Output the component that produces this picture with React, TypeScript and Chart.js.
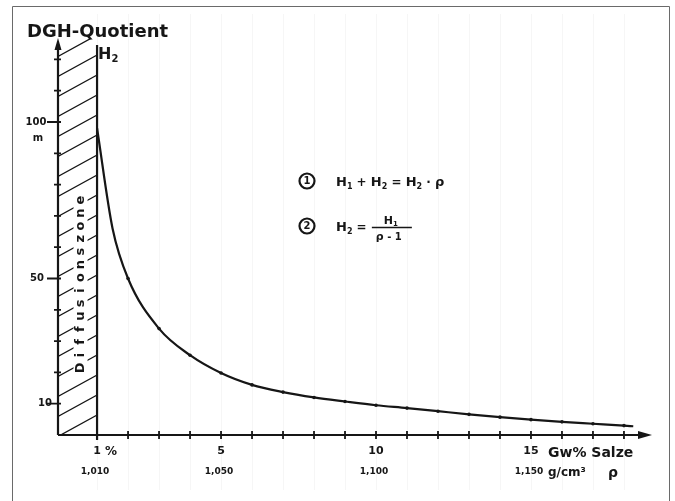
import React, { useEffect, useRef } from "react";
import { Chart, registerables } from "chart.js";

Chart.register(...registerables);

// ---- data ----
const salinityPct = [1, 1.5, 2, 3, 4, 5, 6, 7, 8, 9, 10, 11, 12, 13, 14, 15, 16, 17, 18, 18.3];
const quotientH2 = [98, 66, 50, 34, 25.5, 19.8, 16.0, 13.7, 12.0, 10.7, 9.5, 8.6, 7.6, 6.6, 5.7, 4.9, 4.2, 3.6, 3.0, 2.8];

const xTickValues = [2, 3, 4, 5, 6, 7, 8, 9, 10, 11, 12, 13, 14, 15, 16, 17, 18];
const xLabelValues = [1, 5, 10, 15];
const xLabelsPct = ["1", "5", "10", "15"];
const xLabelsDensity = ["1,010", "1,050", "1,100", "1,150"];

const yTickValues = [10, 20, 30, 40, 50, 60, 70, 80, 90, 100, 110, 120];
const yLabelValues = [100, 50, 10];
const yLabels = ["100", "50", "10"];

const X_MIN = -0.26;
const X_MAX = 18.84;
const Y_MAX = 126.2;
const DIFFUSION_LIMIT = 1;
const HATCH_TOP = 124.6;

const INK = "#161616";
const FONT = "'DejaVu Sans', 'Liberation Sans', sans-serif";

type Seg = [string, number, number]; // text, size, dy

function drawSegs(ctx: CanvasRenderingContext2D, segs: Seg[], x: number, y: number) {
  let cx = x;
  for (const [t, size, dy] of segs) {
    ctx.font = `bold ${size}px ${FONT}`;
    ctx.fillText(t, cx, y + dy);
    cx += ctx.measureText(t).width;
  }
  return cx;
}

function circled(ctx: CanvasRenderingContext2D, n: string, x: number, y: number) {
  ctx.beginPath();
  ctx.lineWidth = 2.2;
  ctx.arc(x, y, 7.5, 0, Math.PI * 2);
  ctx.stroke();
  ctx.font = `bold 10px ${FONT}`;
  ctx.textAlign = "center";
  ctx.textBaseline = "middle";
  ctx.fillText(n, x, y + 0.5);
  ctx.textAlign = "left";
  ctx.textBaseline = "alphabetic";
}

const handDrawnPlugin = {
  id: "handDrawn",
  beforeDatasetsDraw(chart: any) {
    const ctx: CanvasRenderingContext2D = chart.ctx;
    const xs = chart.scales.x;
    const ys = chart.scales.y;
    ctx.save();

    // outer frame of the scan
    ctx.strokeStyle = "#6a6a6a";
    ctx.lineWidth = 1;
    ctx.beginPath();
    ctx.moveTo(12.5, 501);
    ctx.lineTo(12.5, 6.5);
    ctx.lineTo(669.5, 6.5);
    ctx.lineTo(669.5, 501);
    ctx.stroke();

    // faint graph paper lines
    ctx.strokeStyle = "rgba(0,0,0,0.035)";
    for (let v = 1; v <= 18; v++) {
      const px = Math.round(xs.getPixelForValue(v)) + 0.5;
      ctx.beginPath();
      ctx.moveTo(px, 14);
      ctx.lineTo(px, 490);
      ctx.stroke();
    }

    // hatched diffusion zone
    const x0 = xs.getPixelForValue(X_MIN);
    const x1 = xs.getPixelForValue(DIFFUSION_LIMIT);
    const yb = ys.getPixelForValue(0);
    const yt = ys.getPixelForValue(HATCH_TOP);
    ctx.save();
    ctx.beginPath();
    ctx.rect(x0, yt - 6, x1 - x0, yb - yt + 6);
    ctx.clip();
    ctx.strokeStyle = INK;
    ctx.lineWidth = 1.3;
    const rise = (x1 - x0) * 0.55;
    ctx.beginPath();
    for (let y = yb + rise; y > yt - 30; y -= 20) {
      ctx.moveTo(x0, y);
      ctx.lineTo(x1, y - rise);
    }
    ctx.stroke();
    ctx.restore();

    // right edge of zone
    ctx.strokeStyle = INK;
    ctx.lineWidth = 2.2;
    ctx.beginPath();
    ctx.moveTo(x1, yb + 5);
    ctx.lineTo(x1, yt);
    ctx.stroke();

    // vertical label "Diffusionszone"
    const label = "Diffusionszone";
    ctx.save();
    ctx.translate((x0 + x1) / 2 + 3, ys.getPixelForValue(20.5));
    ctx.rotate(-Math.PI / 2);
    ctx.fillStyle = "#ffffff";
    ctx.fillRect(-5, -7, 186, 14);
    ctx.fillStyle = INK;
    ctx.font = `bold 13px ${FONT}`;
    ctx.textBaseline = "middle";
    ctx.textAlign = "center";
    for (let i = 0; i < label.length; i++) {
      ctx.fillText(label[i], i * 12.9 + 3, 0.5);
    }
    ctx.restore();

    // axes
    const xEnd = xs.getPixelForValue(X_MAX);
    const yTop = ys.getPixelForValue(Y_MAX);
    ctx.strokeStyle = INK;
    ctx.fillStyle = INK;
    ctx.lineWidth = 2.2;
    ctx.beginPath();
    ctx.moveTo(x0, yb);
    ctx.lineTo(xEnd - 6, yb);
    ctx.moveTo(x0, yb);
    ctx.lineTo(x0, yTop + 6);
    ctx.stroke();
    ctx.beginPath();
    ctx.moveTo(xEnd + 2, yb);
    ctx.lineTo(xEnd - 12, yb - 4);
    ctx.lineTo(xEnd - 12, yb + 4);
    ctx.closePath();
    ctx.fill();
    ctx.beginPath();
    ctx.moveTo(x0, yTop - 2);
    ctx.lineTo(x0 - 3.5, yTop + 10);
    ctx.lineTo(x0 + 3.5, yTop + 10);
    ctx.closePath();
    ctx.fill();

    // x ticks
    ctx.lineWidth = 1.8;
    ctx.beginPath();
    for (const v of xTickValues) {
      const px = xs.getPixelForValue(v);
      ctx.moveTo(px, yb - 4);
      ctx.lineTo(px, yb + 4);
    }
    ctx.stroke();

    // y ticks
    ctx.beginPath();
    for (const v of yTickValues) {
      const py = ys.getPixelForValue(v);
      const long = yLabelValues.includes(v);
      ctx.moveTo(long ? x0 - 11 : x0 - 4, py);
      ctx.lineTo(x0 + 3, py);
    }
    ctx.stroke();

    ctx.restore();
  },
  afterDatasetsDraw(chart: any) {
    const ctx: CanvasRenderingContext2D = chart.ctx;
    const xs = chart.scales.x;
    const ys = chart.scales.y;
    ctx.save();
    ctx.fillStyle = INK;
    ctx.strokeStyle = INK;

    // title
    ctx.font = `bold 18px ${FONT}`;
    ctx.textBaseline = "alphabetic";
    ctx.fillText("DGH-Quotient", 27, 37);
    drawSegs(ctx, [["H", 16, 0], ["2", 10, 3]], 98, 59);

    // y labels
    ctx.font = `bold 10px ${FONT}`;
    ctx.textAlign = "center";
    ctx.textBaseline = "middle";
    const yLabelX = [36, 37, 45];
    yLabelValues.forEach((v, i) => {
      ctx.fillText(yLabels[i], yLabelX[i], ys.getPixelForValue(v));
    });
    ctx.fillText("m", 38, ys.getPixelForValue(100) + 16);

    // x labels
    xLabelValues.forEach((v, i) => {
      const px = xs.getPixelForValue(v);
      ctx.font = `bold 11px ${FONT}`;
      ctx.textAlign = "center";
      ctx.textBaseline = "alphabetic";
      ctx.fillText(xLabelsPct[i], px, 454);
      ctx.font = `bold 9px ${FONT}`;
      ctx.fillText(xLabelsDensity[i], px - 2, 474);
    });
    const p1 = xs.getPixelForValue(1);
    ctx.font = `bold 12px ${FONT}`;
    ctx.textAlign = "left";
    ctx.fillText("%", p1 + 8, 455);
    const p15 = xs.getPixelForValue(15);
    ctx.font = `bold 14px ${FONT}`;
    ctx.fillText("Gw% Salze", p15 + 17, 457);
    ctx.font = `bold 12px ${FONT}`;
    ctx.fillText("g/cm³", p15 + 17, 476);
    ctx.font = `bold 14px ${FONT}`;
    ctx.fillText("ρ", p15 + 77, 477);

    // formulas
    ctx.lineWidth = 2;
    circled(ctx, "1", 307, 181);
    drawSegs(
      ctx,
      [
        ["H", 13, 0], ["1", 8, 3], [" + ", 12, 0], ["H", 13, 0], ["2", 8, 3],
        [" = ", 12, 0], ["H", 13, 0], ["2", 8, 3], [" · ", 12, 0], ["ρ", 13, 0],
      ],
      336,
      186
    );
    circled(ctx, "2", 307, 226);
    const after = drawSegs(ctx, [["H", 13, 0], ["2", 8, 3], [" = ", 12, 0]], 336, 231);
    const fx0 = after + 1;
    const fx1 = fx0 + 40;
    ctx.lineWidth = 1.6;
    ctx.beginPath();
    ctx.moveTo(fx0, 227.5);
    ctx.lineTo(fx1, 227.5);
    ctx.stroke();
    drawSegs(ctx, [["H", 11, 0], ["1", 7, 2]], fx0 + 12, 224);
    drawSegs(ctx, [["ρ", 11, 0], [" - 1", 10, 0]], fx0 + 4, 240);

    ctx.restore();
  },
};

export default function App() {
  const canvasRef = useRef<HTMLCanvasElement | null>(null);

  useEffect(() => {
    document.body.style.margin = "0";
    const canvas = canvasRef.current;
    if (!canvas) return;
    const chart = new Chart(canvas, {
      type: "line",
      data: {
        datasets: [
          {
            data: salinityPct.map((x, i) => ({ x, y: quotientH2[i] })),
            borderColor: INK,
            borderWidth: 2.2,
            backgroundColor: INK,
            pointRadius: (c: any) => (Number.isInteger(salinityPct[c.dataIndex]) && salinityPct[c.dataIndex] > 1 ? 1.8 : 0),
            pointBorderWidth: 0,
            cubicInterpolationMode: "monotone",
            fill: false,
          },
        ],
      },
      options: {
        responsive: false,
        animation: false,
        layout: { padding: { left: 58, top: 40, right: 25, bottom: 66 } },
        plugins: { legend: { display: false }, tooltip: { enabled: false } },
        scales: {
          x: { type: "linear", min: X_MIN, max: X_MAX, display: false },
          y: { type: "linear", min: 0, max: Y_MAX, display: false },
        },
      },
      plugins: [handDrawnPlugin],
    } as any);
    return () => chart.destroy();
  }, []);

  return (
    <div style={{ width: 675, height: 501, background: "#fff" }}>
      <canvas ref={canvasRef} width={675} height={501} />
    </div>
  );
}
